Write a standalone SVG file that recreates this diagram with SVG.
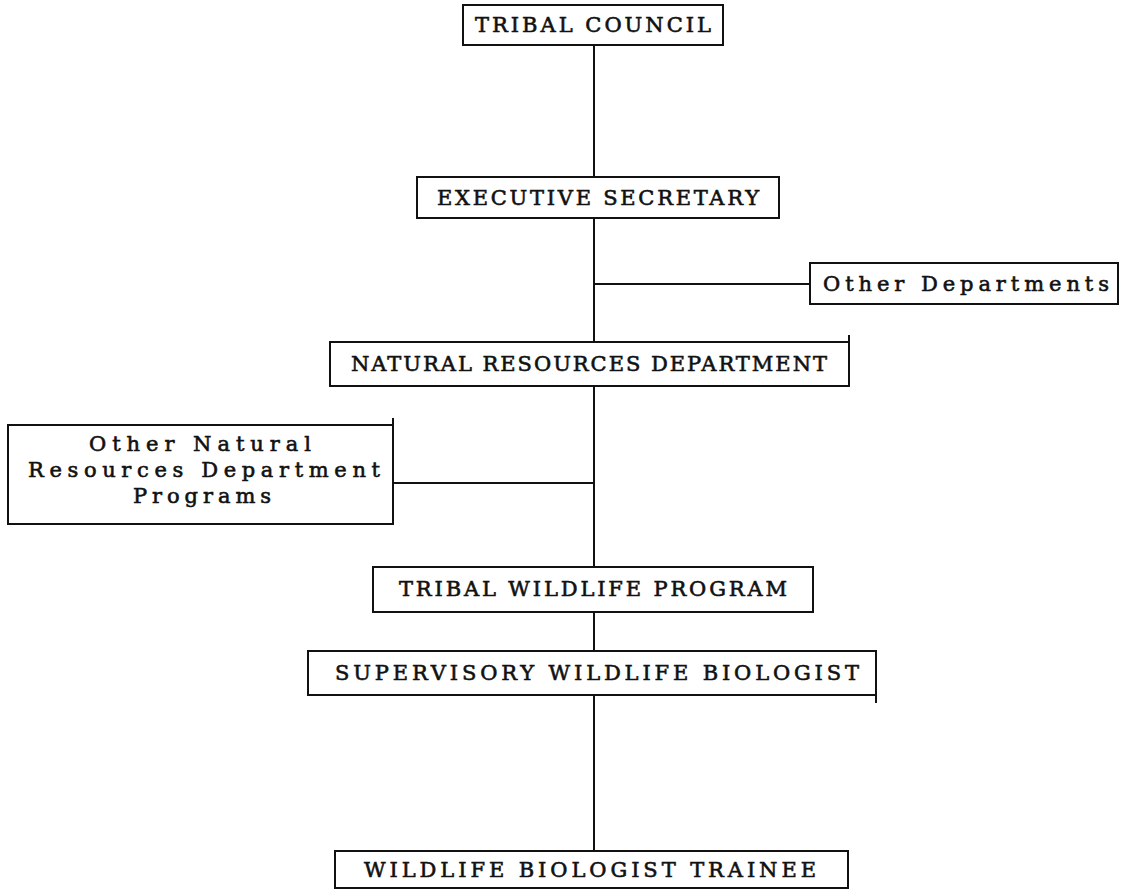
<svg xmlns="http://www.w3.org/2000/svg" width="1130" height="890" viewBox="0 0 1130 890">
  <style>
    .box { fill: #ffffff; stroke: #111111; stroke-width: 2; }
    .edge { stroke: #111111; stroke-width: 2; fill: none; }
    .lbl { font-family: "DejaVu Serif", "Liberation Serif", serif; font-size: 21px; fill: #111111; stroke: #111111; stroke-width: 0.6; text-anchor: middle; }
    .conn { stroke: #111111; stroke-width: 2; fill: none; }
  </style>
  <rect width="1130" height="890" fill="#ffffff"/>
  <g id="connectors">
    <line class="conn" x1="594" y1="45" x2="594" y2="177"/>
    <line class="conn" x1="594" y1="218" x2="594" y2="342"/>
    <line class="conn" x1="594" y1="284" x2="810" y2="284"/>
    <line class="conn" x1="594" y1="386" x2="594" y2="567"/>
    <line class="conn" x1="393" y1="483" x2="594" y2="483"/>
    <line class="conn" x1="594" y1="612" x2="594" y2="651"/>
    <line class="conn" x1="594" y1="695" x2="594" y2="851"/>
  </g>
  <g id="tribal-council">
    <rect class="box" x="463" y="5" width="260" height="40"/>
    <text class="lbl" x="593" y="32" textLength="236" lengthAdjust="spacing">TRIBAL COUNCIL</text>
  </g>
  <g id="executive-secretary">
    <rect class="box" x="417" y="177" width="362" height="41"/>
    <text class="lbl" x="598" y="205" textLength="322" lengthAdjust="spacing">EXECUTIVE SECRETARY</text>
  </g>
  <g id="other-departments">
    <rect class="box" x="810" y="263" width="308" height="41"/>
    <text class="lbl" x="966" y="291" textLength="286" lengthAdjust="spacing">Other Departments</text>
  </g>
  <g id="natural-resources-department">
    <rect class="box" x="330" y="342" width="519" height="44"/>
    <line class="edge" x1="849" y1="335" x2="849" y2="342"/>
    <text class="lbl" x="589" y="371" textLength="476" lengthAdjust="spacing">NATURAL RESOURCES DEPARTMENT</text>
  </g>
  <g id="other-nr-programs">
    <rect class="box" x="8" y="425" width="385" height="99"/>
    <line class="edge" x1="393" y1="418" x2="393" y2="425"/>
    <text class="lbl" x="200" y="451" textLength="222" lengthAdjust="spacing">Other Natural</text>
    <text class="lbl" x="204" y="477" textLength="352" lengthAdjust="spacing">Resources Department</text>
    <text class="lbl" x="202" y="503" textLength="138" lengthAdjust="spacing">Programs</text>
  </g>
  <g id="tribal-wildlife-program">
    <rect class="box" x="373" y="567" width="440" height="45"/>
    <text class="lbl" x="593" y="596" textLength="388" lengthAdjust="spacing">TRIBAL WILDLIFE PROGRAM</text>
  </g>
  <g id="supervisory-wildlife-biologist">
    <rect class="box" x="308" y="651" width="568" height="44"/>
    <line class="edge" x1="876" y1="695" x2="876" y2="703"/>
    <text class="lbl" x="597" y="680" textLength="524" lengthAdjust="spacing">SUPERVISORY WILDLIFE BIOLOGIST</text>
  </g>
  <g id="wildlife-biologist-trainee">
    <rect class="box" x="335" y="851" width="513" height="37"/>
    <text class="lbl" x="590" y="877" textLength="452" lengthAdjust="spacing">WILDLIFE BIOLOGIST TRAINEE</text>
  </g>
</svg>
